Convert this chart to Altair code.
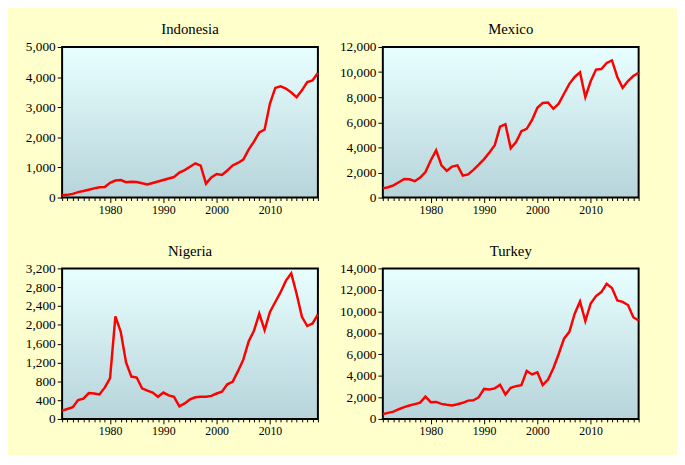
import altair as alt
import pandas as pd

years = list(range(1971, 2020))

indonesia = [80, 90, 122, 180, 216, 258, 304, 341, 349, 491,
             566, 580, 511, 525, 517, 473, 436, 484, 533, 585,
             631, 681, 827, 912, 1026, 1137, 1063, 463, 671, 780,
             748, 900, 1066, 1150, 1260, 1590, 1860, 2167, 2262, 3122,
             3643, 3694, 3623, 3491, 3332, 3563, 3837, 3894, 4135]

mexico = [733, 822, 978, 1222, 1477, 1453, 1301, 1589, 2034, 2975,
          3762, 2574, 2131, 2466, 2563, 1746, 1842, 2211, 2628, 3068,
          3595, 4174, 5647, 5851, 3929, 4432, 5290, 5482, 6183, 7158,
          7544, 7585, 7075, 7484, 8278, 9068, 9614, 9980, 8002, 9271,
          10204, 10242, 10726, 10929, 9617, 8745, 9288, 9687, 9950]

nigeria = [176, 211, 248, 400, 430, 550, 540, 520, 665, 865,
           2180, 1850, 1200, 900, 880, 650, 600, 560, 470, 560,
           500, 470, 266, 330, 414, 460, 470, 470, 490, 540,
           580, 735, 790, 1015, 1260, 1645, 1876, 2240, 1890, 2275,
           2485, 2695, 2940, 3095, 2660, 2170, 1975, 2030, 2220]

turkey = [450, 560, 680, 900, 1100, 1250, 1380, 1520, 2070, 1560,
          1580, 1400, 1310, 1250, 1370, 1500, 1700, 1740, 2020, 2790,
          2740, 2840, 3180, 2270, 2900, 3050, 3140, 4470, 4140, 4340,
          3150, 3660, 4720, 6040, 7460, 8100, 9790, 10930, 9100, 10740,
          11420, 11800, 12560, 12180, 11010, 10890, 10590, 9460, 9160]

countries = ["Indonesia", "Mexico", "Nigeria", "Turkey"]
series = [indonesia, mexico, nigeria, turkey]
y_max = [5000, 12000, 3200, 14000]
y_step = [1000, 2000, 400, 2000]

FONT = "Liberation Serif"


def panel(name, vals, ymax, ystep):
    df = pd.DataFrame({"year": years, "value": vals})
    return (
        alt.Chart(df, title=alt.TitleParams(name, font=FONT, fontSize=15,
                                            fontWeight="normal", color="black",
                                            offset=3))
        .mark_line(color="#FF0000", strokeWidth=2.5)
        .encode(
            x=alt.X("year:Q",
                    scale=alt.Scale(domain=[1971, 2019], nice=False, zero=False),
                    axis=alt.Axis(values=years, format="d",
                                  labelExpr="datum.value % 10 == 0 ? datum.label : ''",
                                  tickSize={"condition": {"test": "datum.value % 10 == 0", "value": 5}, "value": 3},
                                  labelOverlap=False, labelFontSize=12,
                                  labelPadding=2, title=None)),
            y=alt.Y("value:Q",
                    scale=alt.Scale(domain=[0, ymax], nice=False),
                    axis=alt.Axis(values=list(range(0, ymax + 1, ystep)), format=",.0f",
                                  tickSize=5, labelFontSize=13.5, labelPadding=2,
                                  title=None)),
        )
        .properties(width=260, height=153)
    )


panels = [panel(n, s, m, st) for n, s, m, st in zip(countries, series, y_max, y_step)]

grad = alt.LinearGradient(
    gradient="linear", x1=0, x2=0, y1=0, y2=1,
    stops=[alt.GradientStop(color="#E8FFFF", offset=0),
           alt.GradientStop(color="#B6D4DA", offset=1)],
)


def build(fill):
    ch = alt.vconcat(
        alt.hconcat(panels[0], panels[1], spacing=14),
        alt.hconcat(panels[2], panels[3], spacing=14),
        spacing=27,
    ).properties(
        padding={"left": 16, "top": 10, "right": 33, "bottom": 14}
    ).configure(
        background="#FFFFCC"
    ).configure_view(
        fill=fill, stroke="black", strokeWidth=2
    ).configure_axis(
        domain=False, grid=False, tickColor="black", labelColor="black",
        labelFont=FONT, tickWidth=1
    )
    return ch


try:
    chart = build(grad)
    chart.to_dict()
except Exception:
    chart = build({"expr": "{gradient:'linear',x1:0,y1:0,x2:0,y2:1,stops:[{offset:0,color:'#E8FFFF'},{offset:1,color:'#B6D4DA'}]}"})

chart.save("out.html", embed_options={"renderer": "svg", "actions": False})
